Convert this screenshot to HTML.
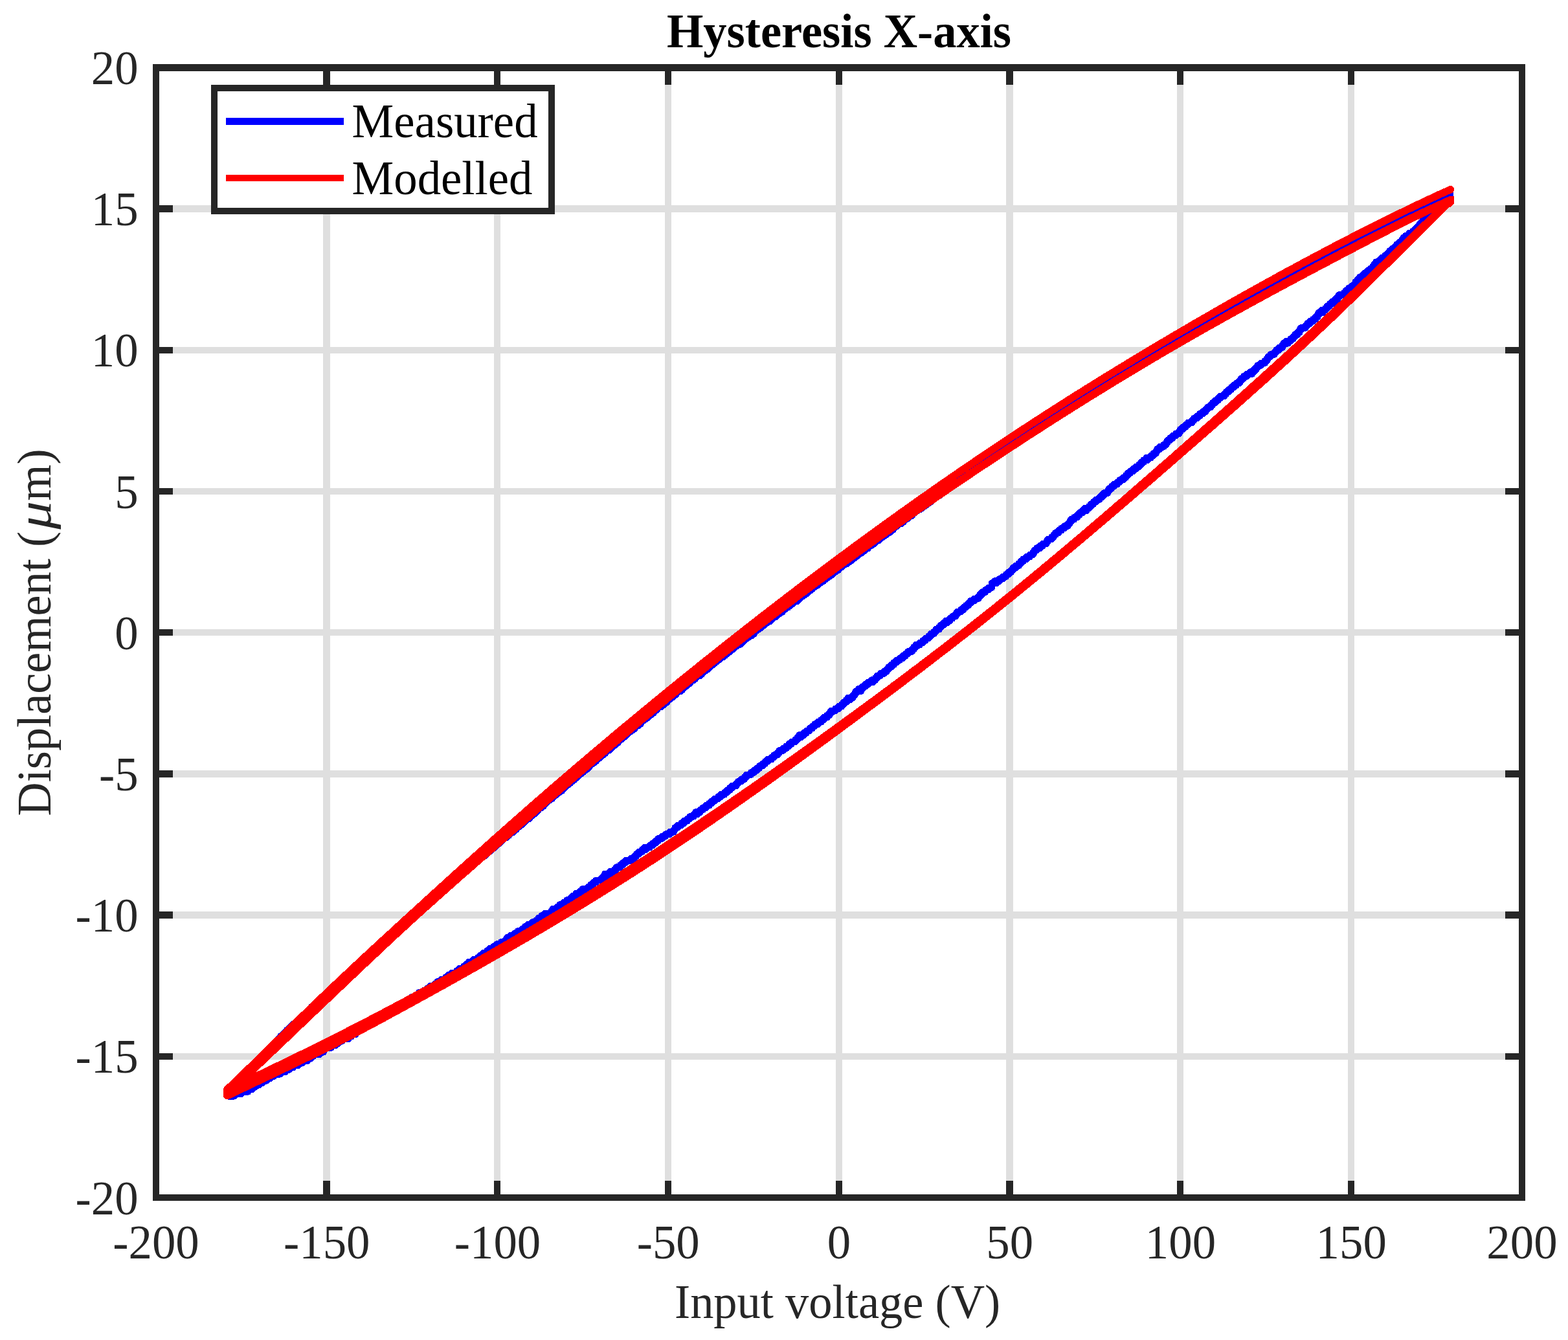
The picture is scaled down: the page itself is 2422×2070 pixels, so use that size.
<!DOCTYPE html>
<html lang="en"><head><meta charset="utf-8"><title>Hysteresis X-axis</title>
<style>html,body{margin:0;padding:0;background:#fff}svg{display:block}</style></head>
<body>
<svg width="2422" height="2070" viewBox="0 0 2422 2070">
<rect x="0" y="0" width="2422" height="2070" fill="#ffffff"/>
<g shape-rendering="crispEdges" stroke="none">
<rect x="499" y="99" width="11" height="1756" fill="#dfdfdf"/>
<rect x="763" y="99" width="10" height="1756" fill="#dfdfdf"/>
<rect x="1027" y="99" width="10" height="1756" fill="#dfdfdf"/>
<rect x="1291" y="99" width="10" height="1756" fill="#dfdfdf"/>
<rect x="1554" y="99" width="11" height="1756" fill="#dfdfdf"/>
<rect x="1818" y="99" width="10" height="1756" fill="#dfdfdf"/>
<rect x="2082" y="99" width="10" height="1756" fill="#dfdfdf"/>
<rect x="236" y="317" width="2120" height="11" fill="#dfdfdf"/>
<rect x="236" y="536" width="2120" height="10" fill="#dfdfdf"/>
<rect x="236" y="754" width="2120" height="10" fill="#dfdfdf"/>
<rect x="236" y="972" width="2120" height="10" fill="#dfdfdf"/>
<rect x="236" y="1190" width="2120" height="11" fill="#dfdfdf"/>
<rect x="236" y="1408" width="2120" height="11" fill="#dfdfdf"/>
<rect x="236" y="1627" width="2120" height="10" fill="#dfdfdf"/>
<rect x="499" y="1824" width="11" height="31" fill="#262626"/>
<rect x="499" y="99" width="11" height="32" fill="#262626"/>
<rect x="763" y="1824" width="10" height="31" fill="#262626"/>
<rect x="763" y="99" width="10" height="32" fill="#262626"/>
<rect x="1027" y="1824" width="10" height="31" fill="#262626"/>
<rect x="1027" y="99" width="10" height="32" fill="#262626"/>
<rect x="1291" y="1824" width="10" height="31" fill="#262626"/>
<rect x="1291" y="99" width="10" height="32" fill="#262626"/>
<rect x="1554" y="1824" width="11" height="31" fill="#262626"/>
<rect x="1554" y="99" width="11" height="32" fill="#262626"/>
<rect x="1818" y="1824" width="10" height="31" fill="#262626"/>
<rect x="1818" y="99" width="10" height="32" fill="#262626"/>
<rect x="2082" y="1824" width="10" height="31" fill="#262626"/>
<rect x="2082" y="99" width="10" height="32" fill="#262626"/>
<rect x="236" y="317" width="31" height="11" fill="#262626"/>
<rect x="2325" y="317" width="31" height="11" fill="#262626"/>
<rect x="236" y="536" width="31" height="10" fill="#262626"/>
<rect x="2325" y="536" width="31" height="10" fill="#262626"/>
<rect x="236" y="754" width="31" height="10" fill="#262626"/>
<rect x="2325" y="754" width="31" height="10" fill="#262626"/>
<rect x="236" y="972" width="31" height="10" fill="#262626"/>
<rect x="2325" y="972" width="31" height="10" fill="#262626"/>
<rect x="236" y="1190" width="31" height="11" fill="#262626"/>
<rect x="2325" y="1190" width="31" height="11" fill="#262626"/>
<rect x="236" y="1408" width="31" height="11" fill="#262626"/>
<rect x="2325" y="1408" width="31" height="11" fill="#262626"/>
<rect x="236" y="1627" width="31" height="10" fill="#262626"/>
<rect x="2325" y="1627" width="31" height="10" fill="#262626"/>
</g>
<g fill="none" stroke-linejoin="round" stroke-linecap="round" shape-rendering="crispEdges">
<path d="M2240.1,302.4 L2235.1,302.4 L2235.1,304.8 L2230.2,304.8 L2230.2,307.2 L2227.2,307.2 L2227.2,309.6 L2219.2,309.6 L2219.2,312.0 L2214.2,312.0 L2214.2,314.4 L2207.3,314.4 L2207.3,316.8 L2204.3,316.8 L2204.3,319.2 L2199.3,319.2 L2199.3,321.6 L2194.3,321.6 L2194.3,324.0 L2186.4,324.0 L2186.4,326.4 L2181.4,326.4 L2181.4,328.8 L2178.4,328.8 L2178.4,331.2 L2170.5,331.2 L2170.5,333.6 L2167.5,333.6 L2167.5,336.0 L2162.5,336.0 L2162.5,338.4 L2158.5,338.4 L2158.5,340.8 L2151.5,340.8 L2151.5,343.2 L2145.6,343.2 L2145.6,345.6 L2139.6,345.6 L2139.6,348.0 L2133.6,348.0 L2133.6,350.4 L2129.7,350.4 L2129.7,352.8 L2123.7,352.8 L2123.7,355.2 L2117.7,355.2 L2117.7,357.6 L2112.7,357.6 L2112.7,360.0 L2106.8,360.0 L2106.8,362.4 L2101.8,362.4 L2101.8,364.8 L2096.8,364.8 L2096.8,367.2 L2093.8,367.2 L2093.8,369.6 L2088.9,369.6 L2088.9,372.0 L2082.9,372.0 L2082.9,374.4 L2076.9,374.4 L2076.9,376.8 L2072.9,376.8 L2072.9,379.2 L2069.0,379.2 L2069.0,381.6 L2065.0,381.6 L2065.0,384.0 L2062.0,384.0 L2062.0,386.4 L2056.0,386.4 L2056.0,388.8 L2051.1,388.8 L2051.1,391.2 L2048.1,391.2 L2048.1,393.6 L2043.1,393.6 L2043.1,396.0 L2037.1,396.0 L2037.1,398.4 L2035.1,398.4 L2035.1,400.8 L2031.2,400.8 L2031.2,403.2 L2030.2,403.2 L2030.2,400.8 L2029.2,400.8 L2029.2,403.2 L2025.2,403.2 L2025.2,405.6 L2020.2,405.6 L2020.2,408.0 L2018.2,408.0 L2018.2,410.4 L2012.3,410.4 L2012.3,412.8 L2009.3,412.8 L2009.3,415.2 L2005.3,415.2 L2005.3,417.6 L2001.3,417.6 L2001.3,420.0 L1999.3,420.0 L1999.3,422.4 L1993.4,422.4 L1993.4,424.8 L1988.4,424.8 L1988.4,427.2 L1985.4,427.2 L1985.4,429.6 L1981.4,429.6 L1981.4,432.0 L1977.4,432.0 L1977.4,434.4 L1972.5,434.4 L1972.5,436.8 L1968.5,436.8 L1968.5,439.2 L1965.5,439.2 L1965.5,441.6 L1962.5,441.6 L1962.5,444.0 L1957.5,444.0 L1957.5,446.4 L1951.6,446.4 L1951.6,448.8 L1949.6,448.8 L1949.6,451.2 L1943.6,451.2 L1943.6,453.6 L1939.6,453.6 L1939.6,456.0 L1934.7,456.0 L1934.7,458.4 L1930.7,458.4 L1930.7,460.8 L1927.7,460.8 L1927.7,463.2 L1923.7,463.2 L1923.7,465.6 L1918.7,465.6 L1918.7,468.0 L1914.8,468.0 L1914.8,470.4 L1910.8,470.4 L1910.8,472.8 L1906.8,472.8 L1906.8,475.2 L1901.8,475.2 L1901.8,477.6 L1896.8,477.6 L1896.8,480.0 L1892.9,480.0 L1892.9,482.4 L1889.9,482.4 L1889.9,484.8 L1884.9,484.8 L1884.9,487.2 L1880.9,487.2 L1880.9,489.6 L1877.9,489.6 L1877.9,492.0 L1872.0,492.0 L1872.0,494.4 L1867.0,494.4 L1867.0,496.8 L1864.0,496.8 L1864.0,499.2 L1860.0,499.2 L1860.0,501.6 L1856.1,501.6 L1856.1,504.0 L1852.1,504.0 L1852.1,506.4 L1847.1,506.4 L1847.1,508.8 L1842.1,508.8 L1842.1,511.2 L1838.1,511.2 L1838.1,513.6 L1834.2,513.6 L1834.2,516.0 L1830.2,516.0 L1830.2,518.4 L1825.2,518.4 L1825.2,520.8 L1822.2,520.8 L1822.2,523.2 L1818.2,523.2 L1818.2,525.6 L1814.3,525.6 L1814.3,528.0 L1810.3,528.0 L1810.3,530.4 L1806.3,530.4 L1806.3,532.8 L1805.3,532.8 L1805.3,530.4 L1803.3,530.4 L1803.3,532.8 L1800.3,532.8 L1800.3,535.2 L1796.4,535.2 L1796.4,537.6 L1792.4,537.6 L1792.4,540.0 L1789.4,540.0 L1789.4,542.4 L1784.4,542.4 L1784.4,544.8 L1780.4,544.8 L1780.4,547.2 L1776.5,547.2 L1776.5,549.6 L1773.5,549.6 L1773.5,552.0 L1767.5,552.0 L1767.5,554.4 L1763.5,554.4 L1763.5,556.8 L1759.5,556.8 L1759.5,559.2 L1755.6,559.2 L1755.6,561.6 L1752.6,561.6 L1752.6,564.0 L1748.6,564.0 L1748.6,566.4 L1744.6,566.4 L1744.6,568.8 L1738.6,568.8 L1738.6,571.2 L1735.7,571.2 L1735.7,573.6 L1732.7,573.6 L1732.7,576.0 L1729.7,576.0 L1729.7,578.4 L1725.7,578.4 L1725.7,580.8 L1720.7,580.8 L1720.7,583.2 L1718.7,583.2 L1718.7,585.6 L1714.8,585.6 L1714.8,588.0 L1710.8,588.0 L1710.8,590.4 L1709.8,590.4 L1709.8,588.0 L1708.8,588.0 L1708.8,590.4 L1704.8,590.4 L1704.8,592.8 L1701.8,592.8 L1701.8,595.2 L1697.9,595.2 L1697.9,597.6 L1692.9,597.6 L1692.9,600.0 L1689.9,600.0 L1689.9,602.4 L1687.9,602.4 L1687.9,604.8 L1681.9,604.8 L1681.9,607.2 L1679.9,607.2 L1679.9,609.6 L1676.0,609.6 L1676.0,612.0 L1671.0,612.0 L1671.0,614.4 L1668.0,614.4 L1668.0,616.8 L1665.0,616.8 L1665.0,619.2 L1661.0,619.2 L1661.0,621.6 L1657.1,621.6 L1657.1,624.0 L1653.1,624.0 L1653.1,626.4 L1649.1,626.4 L1649.1,628.8 L1646.1,628.8 L1646.1,631.2 L1642.1,631.2 L1642.1,633.6 L1638.2,633.6 L1638.2,636.0 L1635.2,636.0 L1635.2,638.4 L1632.2,638.4 L1632.2,640.8 L1627.2,640.8 L1627.2,643.2 L1623.2,643.2 L1623.2,645.6 L1620.2,645.6 L1620.2,648.0 L1616.3,648.0 L1616.3,650.4 L1614.3,650.4 L1614.3,652.8 L1609.3,652.8 L1609.3,655.2 L1603.3,655.2 L1603.3,657.6 L1600.4,657.6 L1600.4,660.0 L1597.4,660.0 L1597.4,662.4 L1594.4,662.4 L1594.4,664.8 L1591.4,664.8 L1591.4,667.2 L1590.4,667.2 L1590.4,664.8 L1589.4,664.8 L1589.4,667.2 L1586.4,667.2 L1586.4,669.6 L1584.4,669.6 L1584.4,672.0 L1580.5,672.0 L1580.5,674.4 L1578.5,674.4 L1578.5,676.8 L1573.5,676.8 L1573.5,679.2 L1570.5,679.2 L1570.5,681.6 L1566.5,681.6 L1566.5,684.0 L1563.5,684.0 L1563.5,686.4 L1560.6,686.4 L1560.6,688.8 L1556.6,688.8 L1556.6,691.2 L1552.6,691.2 L1552.6,693.6 L1548.6,693.6 L1548.6,696.0 L1545.6,696.0 L1545.6,698.4 L1542.6,698.4 L1542.6,700.8 L1538.7,700.8 L1538.7,703.2 L1535.7,703.2 L1535.7,705.6 L1532.7,705.6 L1532.7,708.0 L1527.7,708.0 L1527.7,710.4 L1524.7,710.4 L1524.7,712.8 L1523.7,712.8 L1523.7,715.2 L1518.8,715.2 L1518.8,717.6 L1514.8,717.6 L1514.8,720.0 L1511.8,720.0 L1511.8,722.4 L1507.8,722.4 L1507.8,724.8 L1504.8,724.8 L1504.8,727.2 L1501.9,727.2 L1501.9,729.6 L1496.9,729.6 L1496.9,732.0 L1493.9,732.0 L1493.9,734.4 L1490.9,734.4 L1490.9,736.8 L1486.9,736.8 L1486.9,739.2 L1483.9,739.2 L1483.9,741.6 L1480.0,741.6 L1480.0,744.0 L1478.0,744.0 L1478.0,746.4 L1474.0,746.4 L1474.0,748.8 L1471.0,748.8 L1471.0,751.2 L1468.0,751.2 L1468.0,753.6 L1463.0,753.6 L1463.0,756.0 L1460.1,756.0 L1460.1,758.4 L1457.1,758.4 L1457.1,760.8 L1454.1,760.8 L1454.1,763.2 L1451.1,763.2 L1451.1,765.6 L1447.1,765.6 L1447.1,768.0 L1444.1,768.0 L1444.1,770.4 L1440.2,770.4 L1440.2,772.8 L1438.2,772.8 L1438.2,775.2 L1434.2,775.2 L1434.2,777.6 L1431.2,777.6 L1431.2,780.0 L1428.2,780.0 L1428.2,782.4 L1424.2,782.4 L1424.2,784.8 L1421.3,784.8 L1421.3,787.2 L1420.3,787.2 L1420.3,784.8 L1419.3,784.8 L1419.3,787.2 L1416.3,787.2 L1416.3,789.6 L1413.3,789.6 L1413.3,792.0 L1410.3,792.0 L1410.3,794.4 L1408.3,794.4 L1408.3,796.8 L1404.3,796.8 L1404.3,799.2 L1401.4,799.2 L1401.4,801.6 L1397.4,801.6 L1397.4,804.0 L1395.4,804.0 L1395.4,806.4 L1392.4,806.4 L1392.4,808.8 L1387.4,808.8 L1387.4,811.2 L1384.4,811.2 L1384.4,813.6 L1381.5,813.6 L1381.5,816.0 L1379.5,816.0 L1379.5,818.4 L1376.5,818.4 L1376.5,820.8 L1373.5,820.8 L1373.5,823.2 L1369.5,823.2 L1369.5,825.6 L1366.5,825.6 L1366.5,828.0 L1362.6,828.0 L1362.6,830.4 L1359.6,830.4 L1359.6,832.8 L1356.6,832.8 L1356.6,835.2 L1355.6,835.2 L1355.6,832.8 L1354.6,832.8 L1354.6,835.2 L1351.6,835.2 L1351.6,837.6 L1350.6,837.6 L1350.6,840.0 L1346.6,840.0 L1346.6,842.4 L1342.7,842.4 L1342.7,844.8 L1340.7,844.8 L1340.7,847.2 L1336.7,847.2 L1336.7,849.6 L1333.7,849.6 L1333.7,852.0 L1330.7,852.0 L1330.7,854.4 L1326.7,854.4 L1326.7,856.8 L1323.8,856.8 L1323.8,859.2 L1320.8,859.2 L1320.8,861.6 L1316.8,861.6 L1316.8,864.0 L1314.8,864.0 L1314.8,866.4 L1310.8,866.4 L1310.8,868.8 L1307.8,868.8 L1307.8,871.2 L1302.9,871.2 L1302.9,873.6 L1299.9,873.6 L1299.9,876.0 L1296.9,876.0 L1296.9,878.4 L1294.9,878.4 L1294.9,880.8 L1290.9,880.8 L1290.9,883.2 L1287.9,883.2 L1287.9,885.6 L1285.0,885.6 L1285.0,888.0 L1282.0,888.0 L1282.0,890.4 L1278.0,890.4 L1278.0,892.8 L1275.0,892.8 L1275.0,895.2 L1272.0,895.2 L1272.0,897.6 L1268.0,897.6 L1268.0,900.0 L1265.1,900.0 L1265.1,902.4 L1262.1,902.4 L1262.1,904.8 L1258.1,904.8 L1258.1,907.2 L1255.1,907.2 L1255.1,909.6 L1252.1,909.6 L1252.1,912.0 L1249.1,912.0 L1249.1,914.4 L1246.2,914.4 L1246.2,916.8 L1243.2,916.8 L1243.2,919.2 L1239.2,919.2 L1239.2,921.6 L1236.2,921.6 L1236.2,924.0 L1234.2,924.0 L1234.2,926.4 L1231.2,926.4 L1231.2,928.8 L1230.2,928.8 L1230.2,926.4 L1229.2,926.4 L1229.2,928.8 L1226.3,928.8 L1226.3,931.2 L1223.3,931.2 L1223.3,933.6 L1220.3,933.6 L1220.3,936.0 L1217.3,936.0 L1217.3,938.4 L1213.3,938.4 L1213.3,940.8 L1210.3,940.8 L1210.3,943.2 L1208.3,943.2 L1208.3,945.6 L1204.4,945.6 L1204.4,948.0 L1200.4,948.0 L1200.4,950.4 L1198.4,950.4 L1198.4,952.8 L1194.4,952.8 L1194.4,955.2 L1191.4,955.2 L1191.4,957.6 L1189.4,957.6 L1189.4,960.0 L1184.5,960.0 L1184.5,962.4 L1181.5,962.4 L1181.5,964.8 L1178.5,964.8 L1178.5,967.2 L1175.5,967.2 L1175.5,969.6 L1172.5,969.6 L1172.5,972.0 L1168.5,972.0 L1168.5,974.4 L1165.6,974.4 L1165.6,976.8 L1164.6,976.8 L1164.6,979.2 L1161.6,979.2 L1161.6,981.6 L1157.6,981.6 L1157.6,984.0 L1153.6,984.0 L1153.6,986.4 L1150.6,986.4 L1150.6,988.8 L1147.7,988.8 L1147.7,991.2 L1145.7,991.2 L1145.7,993.6 L1142.7,993.6 L1142.7,996.0 L1137.7,996.0 L1137.7,998.4 L1134.7,998.4 L1134.7,1000.8 L1131.7,1000.8 L1131.7,1003.2 L1128.7,1003.2 L1128.7,1005.6 L1125.8,1005.6 L1125.8,1008.0 L1122.8,1008.0 L1122.8,1010.4 L1119.8,1010.4 L1119.8,1012.8 L1116.8,1012.8 L1116.8,1015.2 L1112.8,1015.2 L1112.8,1017.6 L1109.8,1017.6 L1109.8,1020.0 L1106.9,1020.0 L1106.9,1022.4 L1103.9,1022.4 L1103.9,1024.8 L1100.9,1024.8 L1100.9,1027.2 L1097.9,1027.2 L1097.9,1029.6 L1094.9,1029.6 L1094.9,1032.0 L1092.9,1032.0 L1092.9,1034.4 L1088.9,1034.4 L1088.9,1036.8 L1086.0,1036.8 L1086.0,1039.2 L1084.0,1039.2 L1084.0,1041.6 L1081.0,1041.6 L1081.0,1044.0 L1080.0,1044.0 L1080.0,1041.6 L1079.0,1041.6 L1079.0,1044.0 L1076.0,1044.0 L1076.0,1046.4 L1074.0,1046.4 L1074.0,1048.8 L1071.0,1048.8 L1071.0,1051.2 L1067.1,1051.2 L1067.1,1053.6 L1065.1,1053.6 L1065.1,1056.0 L1062.1,1056.0 L1062.1,1058.4 L1059.1,1058.4 L1059.1,1060.8 L1056.1,1060.8 L1056.1,1063.2 L1054.1,1063.2 L1054.1,1065.6 L1051.1,1065.6 L1051.1,1068.0 L1050.1,1068.0 L1050.1,1065.6 L1049.2,1065.6 L1049.2,1068.0 L1046.2,1068.0 L1046.2,1070.4 L1044.2,1070.4 L1044.2,1072.8 L1041.2,1072.8 L1041.2,1075.2 L1038.2,1075.2 L1038.2,1077.6 L1035.2,1077.6 L1035.2,1080.0 L1032.2,1080.0 L1032.2,1082.4 L1030.2,1082.4 L1030.2,1084.8 L1027.3,1084.8 L1027.3,1087.2 L1024.3,1087.2 L1024.3,1089.6 L1021.3,1089.6 L1021.3,1092.0 L1020.3,1092.0 L1020.3,1089.6 L1019.3,1089.6 L1019.3,1092.0 L1016.3,1092.0 L1016.3,1094.4 L1014.3,1094.4 L1014.3,1096.8 L1011.3,1096.8 L1011.3,1099.2 L1009.4,1099.2 L1009.4,1101.6 L1006.4,1101.6 L1006.4,1104.0 L1002.4,1104.0 L1002.4,1106.4 L1000.4,1106.4 L1000.4,1108.8 L997.4,1108.8 L997.4,1111.2 L993.4,1111.2 L993.4,1113.6 L990.4,1113.6 L990.4,1116.0 L989.5,1116.0 L989.5,1118.4 L986.5,1118.4 L986.5,1120.8 L985.5,1120.8 L985.5,1118.4 L984.5,1118.4 L984.5,1120.8 L981.5,1120.8 L981.5,1123.2 L980.5,1123.2 L980.5,1125.6 L977.5,1125.6 L977.5,1128.0 L973.5,1128.0 L973.5,1130.4 L970.6,1130.4 L970.6,1132.8 L967.6,1132.8 L967.6,1135.2 L965.6,1135.2 L965.6,1137.6 L962.6,1137.6 L962.6,1140.0 L959.6,1140.0 L959.6,1142.4 L956.6,1142.4 L956.6,1144.8 L954.6,1144.8 L954.6,1147.2 L951.6,1147.2 L951.6,1149.6 L948.7,1149.6 L948.7,1152.0 L945.7,1152.0 L945.7,1154.4 L943.7,1154.4 L943.7,1156.8 L940.7,1156.8 L940.7,1159.2 L936.7,1159.2 L936.7,1161.6 L934.7,1161.6 L934.7,1164.0 L931.7,1164.0 L931.7,1166.4 L927.8,1166.4 L927.8,1168.8 L925.8,1168.8 L925.8,1171.2 L922.8,1171.2 L922.8,1173.6 L920.8,1173.6 L920.8,1176.0 L917.8,1176.0 L917.8,1178.4 L913.8,1178.4 L913.8,1180.8 L910.9,1180.8 L910.9,1183.2 L909.9,1183.2 L909.9,1185.6 L906.9,1185.6 L906.9,1188.0 L903.9,1188.0 L903.9,1190.4 L900.9,1190.4 L900.9,1192.8 L897.9,1192.8 L897.9,1195.2 L894.9,1195.2 L894.9,1197.6 L891.9,1197.6 L891.9,1200.0 L890.0,1200.0 L890.0,1202.4 L887.0,1202.4 L887.0,1204.8 L884.0,1204.8 L884.0,1207.2 L881.0,1207.2 L881.0,1209.6 L878.0,1209.6 L878.0,1212.0 L875.0,1212.0 L875.0,1214.4 L872.1,1214.4 L872.1,1216.8 L870.1,1216.8 L870.1,1219.2 L868.1,1219.2 L868.1,1221.6 L864.1,1221.6 L864.1,1224.0 L861.1,1224.0 L861.1,1226.4 L858.1,1226.4 L858.1,1228.8 L855.1,1228.8 L855.1,1231.2 L853.1,1231.2 L853.1,1233.6 L849.2,1233.6 L849.2,1236.0 L846.2,1236.0 L846.2,1238.4 L843.2,1238.4 L843.2,1240.8 L841.2,1240.8 L841.2,1243.2 L839.2,1243.2 L839.2,1245.6 L836.2,1245.6 L836.2,1248.0 L832.3,1248.0 L832.3,1250.4 L830.3,1250.4 L830.3,1252.8 L828.3,1252.8 L828.3,1255.2 L825.3,1255.2 L825.3,1257.6 L822.3,1257.6 L822.3,1260.0 L819.3,1260.0 L819.3,1262.4 L817.3,1262.4 L817.3,1264.8 L813.3,1264.8 L813.3,1267.2 L810.4,1267.2 L810.4,1269.6 L808.4,1269.6 L808.4,1272.0 L805.4,1272.0 L805.4,1274.4 L802.4,1274.4 L802.4,1276.8 L799.4,1276.8 L799.4,1279.2 L797.4,1279.2 L797.4,1281.6 L794.4,1281.6 L794.4,1284.0 L791.5,1284.0 L791.5,1286.4 L787.5,1286.4 L787.5,1288.8 L785.5,1288.8 L785.5,1291.2 L782.5,1291.2 L782.5,1293.6 L778.5,1293.6 L778.5,1296.0 L775.5,1296.0 L775.5,1298.4 L773.6,1298.4 L773.6,1300.8 L770.6,1300.8 L770.6,1303.2 L767.6,1303.2 L767.6,1305.6 L765.6,1305.6 L765.6,1308.0 L762.6,1308.0 L762.6,1310.4 L759.6,1310.4 L759.6,1312.8 L756.6,1312.8 L756.6,1315.2 L753.7,1315.2 L753.7,1317.6 L750.7,1317.6 L750.7,1320.0 L748.7,1320.0 L748.7,1322.4 L744.7,1322.4 L744.7,1324.8 L741.7,1324.8 L741.7,1327.2 L738.7,1327.2 L738.7,1329.6 L736.7,1329.6 L736.7,1332.0 L733.8,1332.0 L733.8,1334.4 L730.8,1334.4 L730.8,1336.8 L728.8,1336.8 L728.8,1339.2 L725.8,1339.2 L725.8,1341.6 L722.8,1341.6 L722.8,1344.0 L718.8,1344.0 L718.8,1346.4 L715.8,1346.4 L715.8,1348.8 L712.9,1348.8 L712.9,1351.2 L709.9,1351.2 L709.9,1353.6 L706.9,1353.6 L706.9,1356.0 L704.9,1356.0 L704.9,1358.4 L702.9,1358.4 L702.9,1360.8 L698.9,1360.8 L698.9,1363.2 L695.9,1363.2 L695.9,1365.6 L693.0,1365.6 L693.0,1368.0 L690.0,1368.0 L690.0,1370.4 L688.0,1370.4 L688.0,1372.8 L686.0,1372.8 L686.0,1375.2 L683.0,1375.2 L683.0,1377.6 L679.0,1377.6 L679.0,1380.0 L676.0,1380.0 L676.0,1382.4 L673.1,1382.4 L673.1,1384.8 L670.1,1384.8 L670.1,1387.2 L667.1,1387.2 L667.1,1389.6 L665.1,1389.6 L665.1,1392.0 L662.1,1392.0 L662.1,1394.4 L659.1,1394.4 L659.1,1396.8 L656.1,1396.8 L656.1,1399.2 L654.2,1399.2 L654.2,1401.6 L651.2,1401.6 L651.2,1404.0 L648.2,1404.0 L648.2,1406.4 L645.2,1406.4 L645.2,1408.8 L644.2,1408.8 L644.2,1411.2 L641.2,1411.2 L641.2,1413.6 L638.2,1413.6 L638.2,1416.0 L634.3,1416.0 L634.3,1418.4 L632.3,1418.4 L632.3,1420.8 L629.3,1420.8 L629.3,1423.2 L627.3,1423.2 L627.3,1425.6 L623.3,1425.6 L623.3,1428.0 L621.3,1428.0 L621.3,1430.4 L618.3,1430.4 L618.3,1432.8 L616.4,1432.8 L616.4,1435.2 L613.4,1435.2 L613.4,1437.6 L609.4,1437.6 L609.4,1440.0 L607.4,1440.0 L607.4,1442.4 L605.4,1442.4 L605.4,1444.8 L602.4,1444.8 L602.4,1447.2 L600.4,1447.2 L600.4,1449.6 L598.4,1449.6 L598.4,1452.0 L594.5,1452.0 L594.5,1454.4 L591.5,1454.4 L591.5,1456.8 L589.5,1456.8 L589.5,1459.2 L586.5,1459.2 L586.5,1461.6 L584.5,1461.6 L584.5,1464.0 L581.5,1464.0 L581.5,1466.4 L577.5,1466.4 L577.5,1468.8 L575.6,1468.8 L575.6,1471.2 L574.6,1471.2 L574.6,1473.6 L571.6,1473.6 L571.6,1476.0 L568.6,1476.0 L568.6,1478.4 L564.6,1478.4 L564.6,1480.8 L562.6,1480.8 L562.6,1483.2 L560.6,1483.2 L560.6,1485.6 L557.6,1485.6 L557.6,1488.0 L555.7,1488.0 L555.7,1490.4 L552.7,1490.4 L552.7,1492.8 L549.7,1492.8 L549.7,1495.2 L547.7,1495.2 L547.7,1497.6 L544.7,1497.6 L544.7,1500.0 L541.7,1500.0 L541.7,1502.4 L539.7,1502.4 L539.7,1504.8 L537.7,1504.8 L537.7,1507.2 L534.8,1507.2 L534.8,1509.6 L531.8,1509.6 L531.8,1512.0 L528.8,1512.0 L528.8,1514.4 L526.8,1514.4 L526.8,1516.8 L524.8,1516.8 L524.8,1519.2 L521.8,1519.2 L521.8,1521.6 L518.8,1521.6 L518.8,1524.0 L515.9,1524.0 L515.9,1526.4 L512.9,1526.4 L512.9,1528.8 L510.9,1528.8 L510.9,1531.2 L508.9,1531.2 L508.9,1533.6 L505.9,1533.6 L505.9,1536.0 L502.9,1536.0 L502.9,1538.4 L499.9,1538.4 L499.9,1540.8 L498.0,1540.8 L498.0,1543.2 L496.0,1543.2 L496.0,1545.6 L493.0,1545.6 L493.0,1548.0 L490.0,1548.0 L490.0,1550.4 L488.0,1550.4 L488.0,1552.8 L484.0,1552.8 L484.0,1555.2 L481.0,1555.2 L481.0,1557.6 L480.0,1557.6 L480.0,1560.0 L477.1,1560.0 L477.1,1562.4 L475.1,1562.4 L475.1,1564.8 L472.1,1564.8 L472.1,1567.2 L470.1,1567.2 L470.1,1569.6 L467.1,1569.6 L467.1,1572.0 L464.1,1572.0 L464.1,1574.4 L461.1,1574.4 L461.1,1576.8 L459.1,1576.8 L459.1,1579.2 L457.2,1579.2 L457.2,1581.6 L453.2,1581.6 L453.2,1584.0 L451.2,1584.0 L451.2,1586.4 L448.2,1586.4 L448.2,1588.8 L446.2,1588.8 L446.2,1591.2 L443.2,1591.2 L443.2,1593.6 L441.2,1593.6 L441.2,1596.0 L439.3,1596.0 L439.3,1598.4 L436.3,1598.4 L436.3,1600.8 L433.3,1600.8 L433.3,1603.2 L431.3,1603.2 L431.3,1605.6 L430.3,1605.6 L430.3,1608.0 L427.3,1608.0 L427.3,1610.4 L424.3,1610.4 L424.3,1612.8 L422.3,1612.8 L422.3,1615.2 L419.4,1615.2 L419.4,1617.6 L417.4,1617.6 L417.4,1620.0 L415.4,1620.0 L415.4,1622.4 L412.4,1622.4 L412.4,1624.8 L410.4,1624.8 L410.4,1627.2 L408.4,1627.2 L408.4,1629.6 L405.4,1629.6 L405.4,1632.0 L403.4,1632.0 L403.4,1634.4 L401.4,1634.4 L401.4,1636.8 L398.5,1636.8 L398.5,1639.2 L396.5,1639.2 L396.5,1641.6 L393.5,1641.6 L393.5,1644.0 L391.5,1644.0 L391.5,1646.4 L390.5,1646.4 L390.5,1648.8 L387.5,1648.8 L387.5,1651.2 L384.5,1651.2 L384.5,1653.6 L382.5,1653.6 L382.5,1656.0 L379.6,1656.0 L379.6,1658.4 L377.6,1658.4 L377.6,1660.8 L375.6,1660.8 L375.6,1663.2 L373.6,1663.2 L373.6,1665.6 L370.6,1665.6 L370.6,1668.0 L368.6,1668.0 L368.6,1670.4 L365.6,1670.4 L365.6,1672.8 L363.6,1672.8 L363.6,1675.2 L361.6,1675.2 L361.6,1677.6 L359.7,1677.6 L359.7,1680.0 L356.7,1680.0 L356.7,1682.4 L354.7,1682.4 L354.7,1684.8 L351.7,1684.8 L351.7,1687.2 L350.7,1687.2 L351.5,1693.2 L362.4,1693.2 L362.4,1689.8 L372.4,1689.8 L372.4,1686.4 L383.3,1686.4 L383.3,1683.0 L389.3,1683.0 L389.3,1679.6 L393.3,1679.6 L393.3,1676.2 L400.2,1676.2 L400.2,1672.8 L405.2,1672.8 L405.2,1669.4 L412.2,1669.4 L412.2,1666.0 L417.1,1666.0 L417.1,1662.6 L423.1,1662.6 L423.1,1659.2 L433.1,1659.2 L433.1,1655.8 L441.0,1655.8 L441.0,1652.4 L447.0,1652.4 L447.0,1649.0 L451.0,1649.0 L451.0,1645.6 L451.9,1645.6 L451.9,1649.0 L452.9,1649.0 L452.9,1645.6 L460.9,1645.6 L460.9,1642.2 L466.9,1642.2 L466.9,1638.8 L474.8,1638.8 L474.8,1635.4 L479.8,1635.4 L479.8,1632.0 L483.8,1632.0 L483.8,1628.6 L490.7,1628.6 L490.7,1625.2 L491.7,1625.2 L491.7,1628.6 L493.7,1628.6 L493.7,1625.2 L499.7,1625.2 L499.7,1621.8 L501.7,1621.8 L501.7,1618.4 L511.6,1618.4 L511.6,1615.0 L518.6,1615.0 L518.6,1611.6 L522.6,1611.6 L522.6,1608.2 L528.5,1608.2 L528.5,1604.8 L533.5,1604.8 L533.5,1601.4 L537.5,1601.4 L537.5,1604.8 L538.5,1604.8 L538.5,1601.4 L542.4,1601.4 L542.4,1598.0 L546.4,1598.0 L546.4,1594.6 L547.4,1594.6 L547.4,1598.0 L549.4,1598.0 L549.4,1594.6 L552.4,1594.6 L552.4,1591.2 L558.4,1591.2 L558.4,1587.8 L562.3,1587.8 L562.3,1584.4 L569.3,1584.4 L569.3,1581.0 L577.3,1581.0 L577.3,1577.6 L579.2,1577.6 L579.2,1574.2 L582.2,1574.2 L582.2,1577.6 L583.2,1577.6 L583.2,1574.2 L588.2,1574.2 L588.2,1570.8 L592.2,1570.8 L592.2,1567.4 L598.1,1567.4 L598.1,1564.0 L604.1,1564.0 L604.1,1560.6 L610.1,1560.6 L610.1,1557.2 L615.0,1557.2 L615.0,1553.8 L620.0,1553.8 L620.0,1550.4 L627.0,1550.4 L627.0,1547.0 L631.0,1547.0 L631.0,1543.6 L635.9,1543.6 L635.9,1540.2 L636.9,1540.2 L636.9,1543.6 L637.9,1543.6 L637.9,1540.2 L644.9,1540.2 L644.9,1536.8 L646.9,1536.8 L646.9,1533.4 L654.8,1533.4 L654.8,1530.0 L659.8,1530.0 L659.8,1526.6 L664.8,1526.6 L664.8,1523.2 L671.7,1523.2 L671.7,1519.8 L675.7,1519.8 L675.7,1516.4 L676.7,1516.4 L676.7,1519.8 L678.7,1519.8 L678.7,1516.4 L681.7,1516.4 L681.7,1513.0 L688.6,1513.0 L688.6,1509.6 L692.6,1509.6 L692.6,1506.2 L697.6,1506.2 L697.6,1502.8 L705.6,1502.8 L705.6,1499.4 L709.5,1499.4 L709.5,1496.0 L716.5,1496.0 L716.5,1492.6 L720.5,1492.6 L720.5,1489.2 L724.4,1489.2 L724.4,1485.8 L731.4,1485.8 L731.4,1482.4 L738.4,1482.4 L738.4,1479.0 L742.3,1479.0 L742.3,1475.6 L746.3,1475.6 L746.3,1472.2 L752.3,1472.2 L752.3,1468.8 L756.3,1468.8 L756.3,1465.4 L757.3,1465.4 L757.3,1468.8 L759.3,1468.8 L759.3,1465.4 L762.2,1465.4 L762.2,1462.0 L767.2,1462.0 L767.2,1458.6 L774.2,1458.6 L774.2,1455.2 L781.1,1455.2 L781.1,1451.8 L783.1,1451.8 L783.1,1448.4 L789.1,1448.4 L789.1,1445.0 L795.1,1445.0 L795.1,1441.6 L800.0,1441.6 L800.0,1438.2 L807.0,1438.2 L807.0,1434.8 L811.0,1434.8 L811.0,1431.4 L815.9,1431.4 L815.9,1428.0 L816.9,1428.0 L816.9,1431.4 L817.9,1431.4 L817.9,1428.0 L821.9,1428.0 L821.9,1424.6 L828.9,1424.6 L828.9,1421.2 L831.9,1421.2 L831.9,1417.8 L836.8,1417.8 L836.8,1414.4 L841.8,1414.4 L841.8,1411.0 L851.7,1411.0 L851.7,1407.6 L853.7,1407.6 L853.7,1404.2 L860.7,1404.2 L860.7,1400.8 L864.7,1400.8 L864.7,1397.4 L870.6,1397.4 L870.6,1394.0 L875.6,1394.0 L875.6,1390.6 L876.6,1390.6 L876.6,1394.0 L878.6,1394.0 L878.6,1390.6 L881.6,1390.6 L881.6,1387.2 L884.6,1387.2 L884.6,1383.8 L889.5,1383.8 L889.5,1380.4 L895.5,1380.4 L895.5,1377.0 L899.5,1377.0 L899.5,1373.6 L908.4,1373.6 L908.4,1370.2 L912.4,1370.2 L912.4,1366.8 L916.4,1366.8 L916.4,1363.4 L920.4,1363.4 L920.4,1360.0 L929.3,1360.0 L929.3,1356.6 L932.3,1356.6 L932.3,1353.2 L934.3,1353.2 L934.3,1349.8 L937.3,1349.8 L937.3,1353.2 L938.3,1353.2 L938.3,1349.8 L942.2,1349.8 L942.2,1346.4 L949.2,1346.4 L949.2,1343.0 L952.2,1343.0 L952.2,1339.6 L958.2,1339.6 L958.2,1336.2 L962.1,1336.2 L962.1,1332.8 L966.1,1332.8 L966.1,1329.4 L975.1,1329.4 L975.1,1326.0 L980.0,1326.0 L980.0,1322.6 L983.0,1322.6 L983.0,1319.2 L987.0,1319.2 L987.0,1315.8 L992.0,1315.8 L992.0,1312.4 L996.0,1312.4 L996.0,1309.0 L996.9,1309.0 L996.9,1312.4 L997.9,1312.4 L997.9,1309.0 L1003.9,1309.0 L1003.9,1305.6 L1008.9,1305.6 L1008.9,1302.2 L1012.9,1302.2 L1012.9,1298.8 L1016.8,1298.8 L1016.8,1295.4 L1022.8,1295.4 L1022.8,1292.0 L1027.8,1292.0 L1027.8,1288.6 L1034.7,1288.6 L1034.7,1285.2 L1040.7,1285.2 L1040.7,1281.8 L1042.7,1281.8 L1042.7,1278.4 L1046.7,1278.4 L1046.7,1275.0 L1052.6,1275.0 L1052.6,1271.6 L1056.6,1271.6 L1056.6,1268.2 L1061.6,1268.2 L1061.6,1264.8 L1065.6,1264.8 L1065.6,1261.4 L1071.5,1261.4 L1071.5,1258.0 L1074.5,1258.0 L1074.5,1254.6 L1076.5,1254.6 L1076.5,1258.0 L1077.5,1258.0 L1077.5,1254.6 L1081.5,1254.6 L1081.5,1251.2 L1085.5,1251.2 L1085.5,1247.8 L1090.4,1247.8 L1090.4,1244.4 L1095.4,1244.4 L1095.4,1241.0 L1099.4,1241.0 L1099.4,1237.6 L1103.4,1237.6 L1103.4,1234.2 L1109.3,1234.2 L1109.3,1230.8 L1113.3,1230.8 L1113.3,1227.4 L1119.3,1227.4 L1119.3,1224.0 L1123.3,1224.0 L1123.3,1220.6 L1127.2,1220.6 L1127.2,1217.2 L1131.2,1217.2 L1131.2,1213.8 L1137.2,1213.8 L1137.2,1210.4 L1140.2,1210.4 L1140.2,1207.0 L1145.1,1207.0 L1145.1,1203.6 L1150.1,1203.6 L1150.1,1200.2 L1153.1,1200.2 L1153.1,1196.8 L1160.0,1196.8 L1160.0,1193.4 L1165.0,1193.4 L1165.0,1190.0 L1169.0,1190.0 L1169.0,1186.6 L1173.0,1186.6 L1173.0,1183.2 L1177.9,1183.2 L1177.9,1179.8 L1181.9,1179.8 L1181.9,1176.4 L1185.9,1176.4 L1185.9,1173.0 L1191.9,1173.0 L1191.9,1169.6 L1195.9,1169.6 L1195.9,1166.2 L1200.8,1166.2 L1200.8,1162.8 L1203.8,1162.8 L1203.8,1159.4 L1209.8,1159.4 L1209.8,1156.0 L1214.7,1156.0 L1214.7,1152.6 L1218.7,1152.6 L1218.7,1149.2 L1222.7,1149.2 L1222.7,1145.8 L1228.7,1145.8 L1228.7,1142.4 L1231.7,1142.4 L1231.7,1139.0 L1234.6,1139.0 L1234.6,1135.6 L1236.6,1135.6 L1236.6,1139.0 L1237.6,1139.0 L1237.6,1135.6 L1241.6,1135.6 L1241.6,1132.2 L1245.6,1132.2 L1245.6,1128.8 L1250.5,1128.8 L1250.5,1125.4 L1254.5,1125.4 L1254.5,1122.0 L1258.5,1122.0 L1258.5,1118.6 L1263.5,1118.6 L1263.5,1115.2 L1268.5,1115.2 L1268.5,1111.8 L1272.4,1111.8 L1272.4,1108.4 L1277.4,1108.4 L1277.4,1105.0 L1281.4,1105.0 L1281.4,1101.6 L1283.4,1101.6 L1283.4,1098.2 L1290.3,1098.2 L1290.3,1094.8 L1295.3,1094.8 L1295.3,1091.4 L1300.3,1091.4 L1300.3,1088.0 L1303.3,1088.0 L1303.3,1084.6 L1307.2,1084.6 L1307.2,1081.2 L1310.2,1081.2 L1310.2,1077.8 L1312.2,1077.8 L1312.2,1081.2 L1313.2,1081.2 L1313.2,1077.8 L1317.2,1077.8 L1317.2,1074.4 L1320.2,1074.4 L1320.2,1071.0 L1322.2,1071.0 L1322.2,1067.6 L1326.1,1067.6 L1326.1,1064.2 L1327.1,1064.2 L1327.1,1067.6 L1330.1,1067.6 L1330.1,1064.2 L1332.1,1064.2 L1332.1,1060.8 L1336.1,1060.8 L1336.1,1057.4 L1341.1,1057.4 L1341.1,1054.0 L1346.0,1054.0 L1346.0,1050.6 L1347.0,1050.6 L1347.0,1054.0 L1348.0,1054.0 L1348.0,1050.6 L1352.0,1050.6 L1352.0,1047.2 L1355.0,1047.2 L1355.0,1043.8 L1359.9,1043.8 L1359.9,1040.4 L1365.9,1040.4 L1365.9,1037.0 L1369.9,1037.0 L1369.9,1033.6 L1372.9,1033.6 L1372.9,1030.2 L1376.9,1030.2 L1376.9,1026.8 L1380.8,1026.8 L1380.8,1023.4 L1384.8,1023.4 L1384.8,1020.0 L1389.8,1020.0 L1389.8,1016.6 L1394.8,1016.6 L1394.8,1013.2 L1398.7,1013.2 L1398.7,1009.8 L1402.7,1009.8 L1402.7,1006.4 L1408.7,1006.4 L1408.7,1003.0 L1411.7,1003.0 L1411.7,999.6 L1414.6,999.6 L1414.6,996.2 L1420.6,996.2 L1420.6,992.8 L1425.6,992.8 L1425.6,989.4 L1429.6,989.4 L1429.6,986.0 L1434.5,986.0 L1434.5,982.6 L1437.5,982.6 L1437.5,979.2 L1442.5,979.2 L1442.5,975.8 L1445.5,975.8 L1445.5,972.4 L1450.4,972.4 L1450.4,969.0 L1453.4,969.0 L1453.4,965.6 L1457.4,965.6 L1457.4,962.2 L1461.4,962.2 L1461.4,958.8 L1462.4,958.8 L1462.4,962.2 L1463.4,962.2 L1463.4,958.8 L1467.4,958.8 L1467.4,955.4 L1471.3,955.4 L1471.3,952.0 L1476.3,952.0 L1476.3,948.6 L1478.3,948.6 L1478.3,945.2 L1484.3,945.2 L1484.3,941.8 L1488.2,941.8 L1488.2,938.4 L1492.2,938.4 L1492.2,935.0 L1496.2,935.0 L1496.2,931.6 L1499.2,931.6 L1499.2,928.2 L1505.1,928.2 L1505.1,924.8 L1511.1,924.8 L1511.1,921.4 L1514.1,921.4 L1514.1,918.0 L1517.1,918.0 L1517.1,914.6 L1522.1,914.6 L1522.1,911.2 L1527.0,911.2 L1527.0,907.8 L1532.0,907.8 L1532.0,901.0 L1536.0,901.0 L1536.0,897.6 L1537.0,897.6 L1537.0,901.0 L1539.0,901.0 L1539.0,897.6 L1543.9,897.6 L1543.9,894.2 L1548.9,894.2 L1548.9,890.8 L1553.9,890.8 L1553.9,887.4 L1557.9,887.4 L1557.9,884.0 L1561.8,884.0 L1561.8,880.6 L1564.8,880.6 L1564.8,877.2 L1568.8,877.2 L1568.8,873.8 L1573.8,873.8 L1573.8,870.4 L1576.8,870.4 L1576.8,867.0 L1580.7,867.0 L1580.7,863.6 L1585.7,863.6 L1585.7,860.2 L1590.7,860.2 L1590.7,856.8 L1595.6,856.8 L1595.6,853.4 L1597.6,853.4 L1597.6,850.0 L1601.6,850.0 L1601.6,846.6 L1606.6,846.6 L1606.6,843.2 L1610.6,843.2 L1610.6,839.8 L1616.5,839.8 L1616.5,836.4 L1618.5,836.4 L1618.5,833.0 L1624.5,833.0 L1624.5,829.6 L1627.5,829.6 L1627.5,826.2 L1630.5,826.2 L1630.5,822.8 L1635.4,822.8 L1635.4,819.4 L1639.4,819.4 L1639.4,816.0 L1644.4,816.0 L1644.4,812.6 L1649.4,812.6 L1649.4,809.2 L1652.3,809.2 L1652.3,805.8 L1654.3,805.8 L1654.3,802.4 L1659.3,802.4 L1659.3,799.0 L1664.3,799.0 L1664.3,795.6 L1667.3,795.6 L1667.3,792.2 L1672.2,792.2 L1672.2,788.8 L1675.2,788.8 L1675.2,785.4 L1677.2,785.4 L1677.2,788.8 L1678.2,788.8 L1678.2,785.4 L1682.2,785.4 L1682.2,782.0 L1685.2,782.0 L1685.2,778.6 L1689.1,778.6 L1689.1,775.2 L1693.1,775.2 L1693.1,771.8 L1698.1,771.8 L1698.1,768.4 L1702.1,768.4 L1702.1,765.0 L1705.0,765.0 L1705.0,761.6 L1711.0,761.6 L1711.0,758.2 L1713.0,758.2 L1713.0,754.8 L1717.0,754.8 L1717.0,751.4 L1721.0,751.4 L1721.0,748.0 L1725.9,748.0 L1725.9,744.6 L1729.9,744.6 L1729.9,741.2 L1734.9,741.2 L1734.9,737.8 L1738.9,737.8 L1738.9,734.4 L1741.8,734.4 L1741.8,731.0 L1745.8,731.0 L1745.8,727.6 L1750.8,727.6 L1750.8,724.2 L1754.8,724.2 L1754.8,720.8 L1759.7,720.8 L1759.7,717.4 L1762.7,717.4 L1762.7,714.0 L1766.7,714.0 L1766.7,710.6 L1770.7,710.6 L1770.7,707.2 L1771.7,707.2 L1771.7,710.6 L1772.7,710.6 L1772.7,707.2 L1777.6,707.2 L1777.6,703.8 L1781.6,703.8 L1781.6,700.4 L1785.6,700.4 L1785.6,697.0 L1787.6,697.0 L1787.6,693.6 L1791.6,693.6 L1791.6,690.2 L1797.5,690.2 L1797.5,686.8 L1801.5,686.8 L1801.5,683.4 L1803.5,683.4 L1803.5,680.0 L1807.5,680.0 L1807.5,676.6 L1811.5,676.6 L1811.5,673.2 L1816.4,673.2 L1816.4,669.8 L1821.4,669.8 L1821.4,666.4 L1823.4,666.4 L1823.4,663.0 L1827.4,663.0 L1827.4,659.6 L1831.4,659.6 L1831.4,656.2 L1835.3,656.2 L1835.3,652.8 L1841.3,652.8 L1841.3,649.4 L1844.3,649.4 L1844.3,646.0 L1849.3,646.0 L1849.3,642.6 L1853.2,642.6 L1853.2,639.2 L1858.2,639.2 L1858.2,635.8 L1862.2,635.8 L1862.2,632.4 L1865.2,632.4 L1865.2,629.0 L1870.1,629.0 L1870.1,625.6 L1873.1,625.6 L1873.1,622.2 L1877.1,622.2 L1877.1,618.8 L1881.1,618.8 L1881.1,615.4 L1885.1,615.4 L1885.1,612.0 L1891.0,612.0 L1891.0,608.6 L1894.0,608.6 L1894.0,605.2 L1898.0,605.2 L1898.0,601.8 L1902.0,601.8 L1902.0,598.4 L1905.9,598.4 L1905.9,595.0 L1909.9,595.0 L1909.9,591.6 L1914.9,591.6 L1914.9,588.2 L1916.9,588.2 L1916.9,584.8 L1920.9,584.8 L1920.9,581.4 L1925.8,581.4 L1925.8,578.0 L1930.8,578.0 L1930.8,574.6 L1931.8,574.6 L1931.8,578.0 L1933.8,578.0 L1933.8,574.6 L1936.8,574.6 L1936.8,571.2 L1939.8,571.2 L1939.8,567.8 L1942.7,567.8 L1942.7,564.4 L1947.7,564.4 L1947.7,561.0 L1953.7,561.0 L1953.7,557.6 L1956.7,557.6 L1956.7,554.2 L1958.6,554.2 L1958.6,550.8 L1962.6,550.8 L1962.6,547.4 L1968.6,547.4 L1968.6,544.0 L1971.6,544.0 L1971.6,540.6 L1975.6,540.6 L1975.6,537.2 L1980.5,537.2 L1980.5,533.8 L1982.5,533.8 L1982.5,530.4 L1986.5,530.4 L1986.5,527.0 L1987.5,527.0 L1987.5,530.4 L1989.5,530.4 L1989.5,527.0 L1993.5,527.0 L1993.5,523.6 L1997.4,523.6 L1997.4,520.2 L2000.4,520.2 L2000.4,516.8 L2004.4,516.8 L2004.4,513.4 L2007.4,513.4 L2007.4,510.0 L2009.4,510.0 L2009.4,506.6 L2016.3,506.6 L2016.3,503.2 L2019.3,503.2 L2019.3,499.8 L2023.3,499.8 L2023.3,496.4 L2028.3,496.4 L2028.3,493.0 L2032.2,493.0 L2032.2,489.6 L2035.2,489.6 L2035.2,486.2 L2037.2,486.2 L2037.2,482.8 L2041.2,482.8 L2041.2,479.4 L2042.2,479.4 L2042.2,482.8 L2043.2,482.8 L2043.2,479.4 L2047.2,479.4 L2047.2,476.0 L2050.1,476.0 L2050.1,472.6 L2054.1,472.6 L2054.1,469.2 L2058.1,469.2 L2058.1,465.8 L2062.1,465.8 L2062.1,462.4 L2066.1,462.4 L2066.1,459.0 L2068.0,459.0 L2068.0,455.6 L2076.0,455.6 L2076.0,452.2 L2079.0,452.2 L2079.0,448.8 L2083.0,448.8 L2083.0,445.4 L2087.9,445.4 L2087.9,442.0 L2091.9,442.0 L2091.9,438.6 L2093.9,438.6 L2093.9,435.2 L2096.9,435.2 L2096.9,431.8 L2099.9,431.8 L2099.9,428.4 L2104.8,428.4 L2104.8,425.0 L2107.8,425.0 L2107.8,421.6 L2112.8,421.6 L2112.8,418.2 L2116.8,418.2 L2116.8,414.8 L2120.8,414.8 L2120.8,411.4 L2122.7,411.4 L2122.7,408.0 L2125.7,408.0 L2125.7,404.6 L2126.7,404.6 L2126.7,408.0 L2128.7,408.0 L2128.7,404.6 L2131.7,404.6 L2131.7,401.2 L2134.7,401.2 L2134.7,397.8 L2139.7,397.8 L2139.7,394.4 L2143.6,394.4 L2143.6,391.0 L2146.6,391.0 L2146.6,387.6 L2150.6,387.6 L2150.6,384.2 L2154.6,384.2 L2154.6,380.8 L2157.6,380.8 L2157.6,377.4 L2161.5,377.4 L2161.5,374.0 L2165.5,374.0 L2165.5,370.6 L2167.5,370.6 L2167.5,367.2 L2171.5,367.2 L2171.5,363.8 L2172.5,363.8 L2172.5,367.2 L2173.5,367.2 L2173.5,363.8 L2176.5,363.8 L2176.5,360.4 L2177.4,360.4 L2177.4,363.8 L2178.4,363.8 L2178.4,360.4 L2182.4,360.4 L2182.4,357.0 L2186.4,357.0 L2186.4,353.6 L2189.4,353.6 L2189.4,350.2 L2192.4,350.2 L2192.4,346.8 L2195.3,346.8 L2195.3,343.4 L2198.3,343.4 L2198.3,340.0 L2201.3,340.0 L2201.3,336.6 L2202.3,336.6 L2202.3,340.0 L2203.3,340.0 L2203.3,336.6 L2207.3,336.6 L2207.3,333.2 L2209.3,333.2 L2209.3,329.8 L2213.2,329.8 L2213.2,326.4 L2216.2,326.4 L2216.2,323.0 L2220.2,323.0 L2220.2,319.6 L2224.2,319.6 L2224.2,316.2 L2227.2,316.2 L2227.2,312.8 L2230.2,312.8 L2230.2,309.4 L2234.1,309.4 L2234.1,306.0 L2237.1,306.0 L2237.1,302.6 L2240.1,302.6 L2240.1,299.2 L2240.1,299.2 L2240.1,302.4" stroke="#0000ff" stroke-width="10.6"/>
<path d="M2240.4,292.8 L2234.1,295.7 L2227.8,298.5 L2221.4,301.4 L2215.1,304.3 L2208.8,307.3 L2202.5,310.2 L2196.2,313.2 L2189.8,316.2 L2183.5,319.2 L2177.2,322.2 L2170.9,325.3 L2164.6,328.4 L2158.3,331.4 L2151.9,334.5 L2145.6,337.6 L2139.3,340.8 L2133.0,343.9 L2126.7,347.1 L2120.3,350.3 L2114.0,353.4 L2107.7,356.6 L2101.4,359.9 L2095.1,363.1 L2088.7,366.3 L2082.4,369.6 L2076.1,372.9 L2069.8,376.1 L2063.5,379.4 L2057.1,382.7 L2050.8,386.0 L2044.5,389.4 L2038.2,392.7 L2031.9,396.1 L2025.6,399.4 L2019.2,402.8 L2012.9,406.2 L2006.6,409.6 L2000.3,413.0 L1994.0,416.4 L1987.6,419.8 L1981.3,423.3 L1975.0,426.7 L1968.7,430.2 L1962.4,433.7 L1956.0,437.2 L1949.7,440.7 L1943.4,444.2 L1937.1,447.7 L1930.8,451.2 L1924.4,454.8 L1918.1,458.3 L1911.8,461.9 L1905.5,465.4 L1899.2,469.0 L1892.9,472.6 L1886.5,476.2 L1880.2,479.8 L1873.9,483.5 L1867.6,487.1 L1861.3,490.7 L1854.9,494.4 L1848.6,498.0 L1842.3,501.7 L1836.0,505.4 L1829.7,509.1 L1823.3,512.8 L1817.0,516.5 L1810.7,520.2 L1804.4,524.0 L1798.1,527.7 L1791.7,531.4 L1785.4,535.2 L1779.1,539.0 L1772.8,542.8 L1766.5,546.5 L1760.2,550.3 L1753.8,554.2 L1747.5,558.0 L1741.2,561.8 L1734.9,565.7 L1728.6,569.5 L1722.2,573.4 L1715.9,577.2 L1709.6,581.1 L1703.3,585.0 L1697.0,588.9 L1690.6,592.9 L1684.3,596.8 L1678.0,600.7 L1671.7,604.7 L1665.4,608.6 L1659.0,612.6 L1652.7,616.6 L1646.4,620.6 L1640.1,624.6 L1633.8,628.6 L1627.5,632.7 L1621.1,636.7 L1614.8,640.8 L1608.5,644.9 L1602.2,648.9 L1595.9,653.0 L1589.5,657.2 L1583.2,661.3 L1576.9,665.4 L1570.6,669.6 L1564.3,673.7 L1557.9,677.9 L1551.6,682.1 L1545.3,686.3 L1539.0,690.5 L1532.7,694.7 L1526.3,699.0 L1520.0,703.2 L1513.7,707.5 L1507.4,711.8 L1501.1,716.1 L1494.8,720.4 L1488.4,724.7 L1482.1,729.0 L1475.8,733.3 L1469.5,737.7 L1463.2,742.1 L1456.8,746.4 L1450.5,750.8 L1444.2,755.2 L1437.9,759.7 L1431.6,764.1 L1425.2,768.5 L1418.9,773.0 L1412.6,777.4 L1406.3,781.9 L1400.0,786.4 L1393.6,790.9 L1387.3,795.4 L1381.0,800.0 L1374.7,804.5 L1368.4,809.0 L1362.1,813.6 L1355.7,818.2 L1349.4,822.8 L1343.1,827.4 L1336.8,832.0 L1330.5,836.6 L1324.1,841.2 L1317.8,845.9 L1311.5,850.5 L1305.2,855.2 L1298.9,859.9 L1292.5,864.6 L1286.2,869.3 L1279.9,874.0 L1273.6,878.7 L1267.3,883.4 L1260.9,888.2 L1254.6,893.0 L1248.3,897.7 L1242.0,902.5 L1235.7,907.3 L1229.3,912.1 L1223.0,916.9 L1216.7,921.7 L1210.4,926.6 L1204.1,931.4 L1197.8,936.3 L1191.4,941.2 L1185.1,946.1 L1178.8,950.9 L1172.5,955.8 L1166.2,960.8 L1159.8,965.7 L1153.5,970.6 L1147.2,975.6 L1140.9,980.5 L1134.6,985.5 L1128.2,990.5 L1121.9,995.5 L1115.6,1000.5 L1109.3,1005.5 L1103.0,1010.5 L1096.6,1015.6 L1090.3,1020.6 L1084.0,1025.7 L1077.7,1030.7 L1071.4,1035.8 L1065.1,1040.9 L1058.7,1046.0 L1052.4,1051.1 L1046.1,1056.2 L1039.8,1061.4 L1033.5,1066.5 L1027.1,1071.7 L1020.8,1076.8 L1014.5,1082.0 L1008.2,1087.2 L1001.9,1092.4 L995.5,1097.6 L989.2,1102.8 L982.9,1108.0 L976.6,1113.3 L970.3,1118.5 L963.9,1123.8 L957.6,1129.1 L951.3,1134.3 L945.0,1139.6 L938.7,1144.9 L932.4,1150.3 L926.0,1155.6 L919.7,1160.9 L913.4,1166.3 L907.1,1171.6 L900.8,1177.0 L894.4,1182.4 L888.1,1187.8 L881.8,1193.2 L875.5,1198.6 L869.2,1204.0 L862.8,1209.5 L856.5,1214.9 L850.2,1220.4 L843.9,1225.9 L837.6,1231.4 L831.2,1236.9 L824.9,1242.4 L818.6,1247.9 L812.3,1253.4 L806.0,1259.0 L799.7,1264.5 L793.3,1270.1 L787.0,1275.7 L780.7,1281.3 L774.4,1286.9 L768.1,1292.5 L761.7,1298.1 L755.4,1303.8 L749.1,1309.4 L742.8,1315.1 L736.5,1320.7 L730.1,1326.4 L723.8,1332.1 L717.5,1337.8 L711.2,1343.5 L704.9,1349.2 L698.5,1355.0 L692.2,1360.7 L685.9,1366.4 L679.6,1372.2 L673.3,1377.9 L667.0,1383.7 L660.6,1389.4 L654.3,1395.2 L648.0,1401.0 L641.7,1406.7 L635.4,1412.5 L629.0,1418.3 L622.7,1424.0 L616.4,1429.8 L610.1,1435.6 L603.8,1441.4 L597.4,1447.2 L591.1,1453.0 L584.8,1458.8 L578.5,1464.6 L572.2,1470.5 L565.8,1476.3 L559.5,1482.2 L553.2,1488.1 L546.9,1493.9 L540.6,1499.9 L534.3,1505.8 L527.9,1511.7 L521.6,1517.7 L515.3,1523.7 L509.0,1529.7 L502.7,1535.7 L496.3,1541.7 L490.0,1547.8 L483.7,1553.9 L477.4,1560.0 L471.1,1566.1 L464.7,1572.3 L458.4,1578.4 L452.1,1584.6 L445.8,1590.7 L439.5,1596.9 L433.1,1603.1 L426.8,1609.3 L420.5,1615.4 L414.2,1621.6 L407.9,1627.8 L401.6,1634.0 L395.2,1640.1 L388.9,1646.3 L382.6,1652.5 L376.3,1658.6 L370.0,1664.7 L363.6,1670.8 L357.3,1676.9 L351.0,1683.0" stroke="#ff0000" stroke-width="11.5"/>
<path d="M351.0,1683.0 L351.0,1692.5 L357.3,1689.5 L363.6,1686.5 L370.0,1683.4 L376.3,1680.4 L382.6,1677.4 L388.9,1674.4 L395.2,1671.4 L401.5,1668.4 L407.9,1665.4 L414.2,1662.4 L420.5,1659.4 L426.8,1656.4 L433.1,1653.4 L439.5,1650.3 L445.8,1647.3 L452.1,1644.2 L458.4,1641.2 L464.7,1638.1 L471.0,1635.0 L477.4,1631.9 L483.7,1628.8 L490.0,1625.7 L496.3,1622.5 L502.6,1619.4 L509.0,1616.2 L515.3,1613.0 L521.6,1609.7 L527.9,1606.5 L534.2,1603.2 L540.5,1599.9 L546.9,1596.6 L553.2,1593.3 L559.5,1590.0 L565.8,1586.6 L572.1,1583.2 L578.5,1579.9 L584.8,1576.5 L591.1,1573.1 L597.4,1569.6 L603.7,1566.2 L610.0,1562.8 L616.4,1559.3 L622.7,1555.9 L629.0,1552.4 L635.3,1549.0 L641.6,1545.5 L647.9,1542.0 L654.3,1538.6 L660.6,1535.1 L666.9,1531.6 L673.2,1528.1 L679.5,1524.6 L685.9,1521.1 L692.2,1517.5 L698.5,1514.0 L704.8,1510.5 L711.1,1506.9 L717.4,1503.4 L723.8,1499.8 L730.1,1496.3 L736.4,1492.7 L742.7,1489.1 L749.0,1485.5 L755.4,1481.9 L761.7,1478.3 L768.0,1474.7 L774.3,1471.1 L780.6,1467.4 L786.9,1463.8 L793.3,1460.1 L799.6,1456.4 L805.9,1452.8 L812.2,1449.1 L818.5,1445.4 L824.9,1441.6 L831.2,1437.9 L837.5,1434.2 L843.8,1430.4 L850.1,1426.7 L856.4,1422.9 L862.8,1419.1 L869.1,1415.3 L875.4,1411.5 L881.7,1407.7 L888.0,1403.8 L894.4,1400.0 L900.7,1396.1 L907.0,1392.2 L913.3,1388.3 L919.6,1384.4 L925.9,1380.5 L932.3,1376.6 L938.6,1372.6 L944.9,1368.7 L951.2,1364.7 L957.5,1360.7 L963.9,1356.7 L970.2,1352.7 L976.5,1348.7 L982.8,1344.6 L989.1,1340.6 L995.4,1336.5 L1001.8,1332.4 L1008.1,1328.3 L1014.4,1324.1 L1020.7,1320.0 L1027.0,1315.8 L1033.4,1311.7 L1039.7,1307.5 L1046.0,1303.3 L1052.3,1299.0 L1058.6,1294.8 L1064.9,1290.6 L1071.3,1286.3 L1077.6,1282.0 L1083.9,1277.7 L1090.2,1273.4 L1096.5,1269.1 L1102.8,1264.7 L1109.2,1260.4 L1115.5,1256.0 L1121.8,1251.6 L1128.1,1247.2 L1134.4,1242.8 L1140.8,1238.4 L1147.1,1233.9 L1153.4,1229.5 L1159.7,1225.0 L1166.0,1220.6 L1172.3,1216.1 L1178.7,1211.6 L1185.0,1207.1 L1191.3,1202.6 L1197.6,1198.1 L1203.9,1193.5 L1210.3,1189.0 L1216.6,1184.4 L1222.9,1179.9 L1229.2,1175.3 L1235.5,1170.7 L1241.8,1166.1 L1248.2,1161.5 L1254.5,1156.9 L1260.8,1152.3 L1267.1,1147.7 L1273.4,1143.1 L1279.8,1138.4 L1286.1,1133.8 L1292.4,1129.2 L1298.7,1124.5 L1305.0,1119.8 L1311.3,1115.2 L1317.7,1110.5 L1324.0,1105.8 L1330.3,1101.1 L1336.6,1096.4 L1342.9,1091.7 L1349.3,1087.0 L1355.6,1082.3 L1361.9,1077.6 L1368.2,1072.9 L1374.5,1068.1 L1380.8,1063.4 L1387.2,1058.6 L1393.5,1053.8 L1399.8,1049.0 L1406.1,1044.3 L1412.4,1039.5 L1418.8,1034.6 L1425.1,1029.8 L1431.4,1025.0 L1437.7,1020.1 L1444.0,1015.3 L1450.3,1010.4 L1456.7,1005.5 L1463.0,1000.7 L1469.3,995.8 L1475.6,990.8 L1481.9,985.9 L1488.3,981.0 L1494.6,976.0 L1500.9,971.1 L1507.2,966.1 L1513.5,961.1 L1519.8,956.1 L1526.2,951.0 L1532.5,946.0 L1538.8,941.0 L1545.1,935.9 L1551.4,930.8 L1557.7,925.7 L1564.1,920.6 L1570.4,915.5 L1576.7,910.3 L1583.0,905.2 L1589.3,900.0 L1595.7,894.8 L1602.0,889.6 L1608.3,884.4 L1614.6,879.2 L1620.9,873.9 L1627.2,868.7 L1633.6,863.4 L1639.9,858.1 L1646.2,852.8 L1652.5,847.5 L1658.8,842.2 L1665.2,836.9 L1671.5,831.6 L1677.8,826.2 L1684.1,820.9 L1690.4,815.5 L1696.7,810.1 L1703.1,804.7 L1709.4,799.4 L1715.7,794.0 L1722.0,788.5 L1728.3,783.1 L1734.7,777.7 L1741.0,772.3 L1747.3,766.8 L1753.6,761.4 L1759.9,755.9 L1766.2,750.5 L1772.6,745.0 L1778.9,739.6 L1785.2,734.1 L1791.5,728.6 L1797.8,723.1 L1804.2,717.6 L1810.5,712.1 L1816.8,706.6 L1823.1,701.1 L1829.4,695.6 L1835.7,690.1 L1842.1,684.6 L1848.4,679.1 L1854.7,673.6 L1861.0,668.1 L1867.3,662.5 L1873.7,657.0 L1880.0,651.4 L1886.3,645.9 L1892.6,640.3 L1898.9,634.8 L1905.2,629.2 L1911.6,623.6 L1917.9,618.0 L1924.2,612.4 L1930.5,606.7 L1936.8,601.1 L1943.2,595.4 L1949.5,589.8 L1955.8,584.1 L1962.1,578.4 L1968.4,572.7 L1974.7,566.9 L1981.1,561.2 L1987.4,555.4 L1993.7,549.6 L2000.0,543.8 L2006.3,538.0 L2012.6,532.2 L2019.0,526.3 L2025.3,520.4 L2031.6,514.5 L2037.9,508.6 L2044.2,502.6 L2050.6,496.7 L2056.9,490.7 L2063.2,484.7 L2069.5,478.6 L2075.8,472.5 L2082.1,466.4 L2088.5,460.3 L2094.8,454.2 L2101.1,448.0 L2107.4,441.8 L2113.7,435.6 L2120.1,429.3 L2126.4,423.1 L2132.7,416.8 L2139.0,410.5 L2145.3,404.3 L2151.6,398.0 L2158.0,391.7 L2164.3,385.4 L2170.6,379.1 L2176.9,372.8 L2183.2,366.5 L2189.6,360.2 L2195.9,353.9 L2202.2,347.7 L2208.5,341.4 L2214.8,335.2 L2221.1,329.0 L2227.5,322.8 L2233.8,316.6 L2240.1,310.5 L2240.1,309.0 L2233.8,311.9 L2227.5,314.8 L2221.1,317.7 L2214.8,320.6 L2208.5,323.6 L2202.2,326.6 L2195.9,329.7 L2189.6,332.8 L2183.2,335.9 L2176.9,339.0 L2170.6,342.1 L2164.3,345.3 L2158.0,348.5 L2151.6,351.7 L2145.3,354.9 L2139.0,358.1 L2132.7,361.4 L2126.4,364.6 L2120.1,367.9 L2113.7,371.2 L2107.4,374.5 L2101.1,377.8 L2094.8,381.1 L2088.5,384.4 L2082.1,387.7 L2075.8,391.0 L2069.5,394.3 L2063.2,397.6 L2056.9,400.9 L2050.6,404.3 L2044.2,407.6 L2037.9,410.9 L2031.6,414.3 L2025.3,417.6 L2019.0,421.0 L2012.6,424.3 L2006.3,427.7 L2000.0,431.1 L1993.7,434.4 L1987.4,437.8 L1981.1,441.2 L1974.7,444.6 L1968.4,448.0 L1962.1,451.4 L1955.8,454.9 L1949.5,458.3 L1943.2,461.7 L1936.8,465.2 L1930.5,468.6 L1924.2,472.1 L1917.9,475.6 L1911.6,479.0 L1905.2,482.5 L1898.9,486.0 L1892.6,489.5 L1886.3,493.1 L1880.0,496.6 L1873.7,500.1 L1867.3,503.7 L1861.0,507.3 L1854.7,510.8 L1848.4,514.4 L1842.1,518.0 L1835.7,521.7 L1829.4,525.3 L1823.1,528.9 L1816.8,532.6 L1810.5,536.3 L1804.2,539.9 L1797.8,543.6 L1791.5,547.3 L1785.2,551.1 L1778.9,554.8 L1772.6,558.5 L1766.2,562.3 L1759.9,566.1 L1753.6,569.9 L1747.3,573.7 L1741.0,577.5 L1734.7,581.3 L1728.3,585.1 L1722.0,589.0 L1715.7,592.8 L1709.4,596.7 L1703.1,600.6 L1696.7,604.5 L1690.4,608.4 L1684.1,612.3 L1677.8,616.2 L1671.5,620.2 L1665.2,624.1 L1658.8,628.1 L1652.5,632.1 L1646.2,636.0 L1639.9,640.0 L1633.6,644.1 L1627.2,648.1 L1620.9,652.1 L1614.6,656.1 L1608.3,660.2 L1602.0,664.3 L1595.7,668.3 L1589.3,672.4 L1583.0,676.5 L1576.7,680.6 L1570.4,684.7 L1564.1,688.9 L1557.7,693.0 L1551.4,697.2 L1545.1,701.3 L1538.8,705.5 L1532.5,709.7 L1526.2,713.9 L1519.8,718.1 L1513.5,722.3 L1507.2,726.5 L1500.9,730.7 L1494.6,735.0 L1488.3,739.2 L1481.9,743.5 L1475.6,747.8 L1469.3,752.0 L1463.0,756.3 L1456.7,760.6 L1450.3,765.0 L1444.0,769.3 L1437.7,773.6 L1431.4,778.0 L1425.1,782.3 L1418.8,786.7 L1412.4,791.1 L1406.1,795.5 L1399.8,799.9 L1393.5,804.3 L1387.2,808.7 L1380.8,813.2 L1374.5,817.6 L1368.2,822.1 L1361.9,826.6 L1355.6,831.0 L1349.3,835.5 L1342.9,840.0 L1336.6,844.6 L1330.3,849.1 L1324.0,853.6 L1317.7,858.2 L1311.3,862.8 L1305.0,867.3 L1298.7,871.9 L1292.4,876.5 L1286.1,881.1 L1279.8,885.8 L1273.4,890.4 L1267.1,895.1 L1260.8,899.7 L1254.5,904.4 L1248.2,909.1 L1241.8,913.8 L1235.5,918.5 L1229.2,923.2 L1222.9,928.0 L1216.6,932.7 L1210.3,937.5 L1203.9,942.2 L1197.6,947.0 L1191.3,951.8 L1185.0,956.7 L1178.7,961.5 L1172.3,966.3 L1166.0,971.2 L1159.7,976.1 L1153.4,980.9 L1147.1,985.8 L1140.8,990.8 L1134.4,995.7 L1128.1,1000.6 L1121.8,1005.6 L1115.5,1010.6 L1109.2,1015.6 L1102.8,1020.6 L1096.5,1025.6 L1090.2,1030.6 L1083.9,1035.7 L1077.6,1040.7 L1071.3,1045.8 L1064.9,1050.9 L1058.6,1056.0 L1052.3,1061.1 L1046.0,1066.3 L1039.7,1071.4 L1033.4,1076.6 L1027.0,1081.8 L1020.7,1087.0 L1014.4,1092.2 L1008.1,1097.4 L1001.8,1102.7 L995.4,1108.0 L989.1,1113.2 L982.8,1118.5 L976.5,1123.8 L970.2,1129.2 L963.9,1134.5 L957.5,1139.8 L951.2,1145.2 L944.9,1150.5 L938.6,1155.9 L932.3,1161.3 L925.9,1166.7 L919.6,1172.1 L913.3,1177.5 L907.0,1182.9 L900.7,1188.4 L894.4,1193.8 L888.0,1199.2 L881.7,1204.7 L875.4,1210.2 L869.1,1215.6 L862.8,1221.1 L856.4,1226.6 L850.1,1232.1 L843.8,1237.6 L837.5,1243.0 L831.2,1248.5 L824.9,1254.0 L818.5,1259.5 L812.2,1265.1 L805.9,1270.6 L799.6,1276.1 L793.3,1281.6 L786.9,1287.1 L780.6,1292.6 L774.3,1298.1 L768.0,1303.6 L761.7,1309.2 L755.4,1314.7 L749.0,1320.2 L742.7,1325.7 L736.4,1331.2 L730.1,1336.8 L723.8,1342.3 L717.4,1347.9 L711.1,1353.4 L704.8,1359.0 L698.5,1364.6 L692.2,1370.2 L685.9,1375.8 L679.5,1381.4 L673.2,1387.0 L666.9,1392.7 L660.6,1398.3 L654.3,1404.0 L647.9,1409.7 L641.6,1415.5 L635.3,1421.2 L629.0,1427.0 L622.7,1432.8 L616.4,1438.6 L610.0,1444.5 L603.7,1450.3 L597.4,1456.2 L591.1,1462.1 L584.8,1468.0 L578.5,1474.0 L572.1,1479.9 L565.8,1485.9 L559.5,1491.8 L553.2,1497.8 L546.9,1503.8 L540.5,1509.8 L534.2,1515.8 L527.9,1521.8 L521.6,1527.8 L515.3,1533.8 L509.0,1539.8 L502.6,1545.8 L496.3,1551.8 L490.0,1557.8 L483.7,1563.8 L477.4,1569.9 L471.0,1575.9 L464.7,1581.9 L458.4,1587.9 L452.1,1593.9 L445.8,1599.9 L439.5,1606.0 L433.1,1612.0 L426.8,1618.0 L420.5,1624.0 L414.2,1630.0 L407.9,1636.1 L401.5,1642.1 L395.2,1648.1 L388.9,1654.2 L382.6,1660.2 L376.3,1666.3 L370.0,1672.3 L363.6,1678.4 L357.3,1684.4 L351.0,1690.5 L351.0,1684.5 L357.3,1681.5 L363.6,1678.4 L370.0,1675.4 L376.3,1672.4 L382.6,1669.3 L388.9,1666.3 L395.2,1663.3 L401.5,1660.2 L407.9,1657.2 L414.2,1654.2 L420.5,1651.1 L426.8,1648.0 L433.1,1645.0 L439.5,1641.9 L445.8,1638.9 L452.1,1635.8 L458.4,1632.7 L464.7,1629.6 L471.0,1626.5 L477.4,1623.4 L483.7,1620.3 L490.0,1617.1 L496.3,1614.0 L502.6,1610.9 L509.0,1607.7 L515.3,1604.5 L521.6,1601.3 L527.9,1598.1 L534.2,1594.9 L540.5,1591.7 L546.9,1588.5 L553.2,1585.2 L559.5,1582.0 L565.8,1578.7 L572.1,1575.4 L578.5,1572.1 L584.8,1568.8 L591.1,1565.5 L597.4,1562.2 L603.7,1558.8 L610.0,1555.5 L616.4,1552.1 L622.7,1548.8 L629.0,1545.4 L635.3,1542.0 L641.6,1538.6 L647.9,1535.1 L654.3,1531.7 L660.6,1528.3 L666.9,1524.8 L673.2,1521.3 L679.5,1517.9 L685.9,1514.4 L692.2,1510.9 L698.5,1507.3 L704.8,1503.8 L711.1,1500.3 L717.4,1496.7 L723.8,1493.2 L730.1,1489.6 L736.4,1486.0 L742.7,1482.4 L749.0,1478.8 L755.4,1475.2 L761.7,1471.5 L768.0,1467.9 L774.3,1464.2 L780.6,1460.6 L786.9,1456.9 L793.3,1453.2 L799.6,1449.5 L805.9,1445.8 L812.2,1442.1 L818.5,1438.3 L824.9,1434.6 L831.2,1430.8 L837.5,1427.0 L843.8,1423.2 L850.1,1419.4 L856.4,1415.6 L862.8,1411.8 L869.1,1408.0 L875.4,1404.1 L881.7,1400.3 L888.0,1396.4 L894.4,1392.5 L900.7,1388.6 L907.0,1384.7 L913.3,1380.8 L919.6,1376.9 L925.9,1372.9 L932.3,1369.0 L938.6,1365.0 L944.9,1361.0 L951.2,1357.1 L957.5,1353.1 L963.9,1349.0 L970.2,1345.0 L976.5,1341.0 L982.8,1336.9 L989.1,1332.9 L995.4,1328.8 L1001.8,1324.7 L1008.1,1320.6 L1014.4,1316.5 L1020.7,1312.4 L1027.0,1308.2 L1033.4,1304.1 L1039.7,1299.9 L1046.0,1295.7 L1052.3,1291.6 L1058.6,1287.4 L1064.9,1283.2 L1071.3,1278.9 L1077.6,1274.7 L1083.9,1270.5 L1090.2,1266.2 L1096.5,1261.9 L1102.8,1257.7 L1109.2,1253.4 L1115.5,1249.1 L1121.8,1244.7 L1128.1,1240.4 L1134.4,1236.1 L1140.8,1231.7 L1147.1,1227.4 L1153.4,1223.0 L1159.7,1218.7 L1166.0,1214.3 L1172.3,1209.9 L1178.7,1205.5 L1185.0,1201.0 L1191.3,1196.6 L1197.6,1192.2 L1203.9,1187.7 L1210.3,1183.3 L1216.6,1178.8 L1222.9,1174.3 L1229.2,1169.9 L1235.5,1165.4 L1241.8,1160.9 L1248.2,1156.3 L1254.5,1151.8 L1260.8,1147.3 L1267.1,1142.8 L1273.4,1138.2 L1279.8,1133.7 L1286.1,1129.1 L1292.4,1124.5 L1298.7,1119.9 L1305.0,1115.3 L1311.3,1110.7 L1317.7,1106.1 L1324.0,1101.5 L1330.3,1096.9 L1336.6,1092.3 L1342.9,1087.6 L1349.3,1083.0 L1355.6,1078.3 L1361.9,1073.6 L1368.2,1068.9 L1374.5,1064.3 L1380.8,1059.5 L1387.2,1054.8 L1393.5,1050.1 L1399.8,1045.4 L1406.1,1040.6 L1412.4,1035.8 L1418.8,1031.1 L1425.1,1026.3 L1431.4,1021.5 L1437.7,1016.7 L1444.0,1011.8 L1450.3,1007.0 L1456.7,1002.2 L1463.0,997.3 L1469.3,992.4 L1475.6,987.5 L1481.9,982.6 L1488.3,977.7 L1494.6,972.7 L1500.9,967.8 L1507.2,962.8 L1513.5,957.8 L1519.8,952.8 L1526.2,947.8 L1532.5,942.8 L1538.8,937.8 L1545.1,932.7 L1551.4,927.6 L1557.7,922.5 L1564.1,917.4 L1570.4,912.3 L1576.7,907.1 L1583.0,902.0 L1589.3,896.8 L1595.7,891.6 L1602.0,886.4 L1608.3,881.2 L1614.6,875.9 L1620.9,870.7 L1627.2,865.4 L1633.6,860.1 L1639.9,854.8 L1646.2,849.5 L1652.5,844.2 L1658.8,838.9 L1665.2,833.5 L1671.5,828.2 L1677.8,822.8 L1684.1,817.4 L1690.4,812.0 L1696.7,806.6 L1703.1,801.2 L1709.4,795.8 L1715.7,790.3 L1722.0,784.9 L1728.3,779.4 L1734.7,774.0 L1741.0,768.5 L1747.3,763.0 L1753.6,757.5 L1759.9,752.0 L1766.2,746.5 L1772.6,741.0 L1778.9,735.5 L1785.2,730.0 L1791.5,724.5 L1797.8,718.9 L1804.2,713.4 L1810.5,707.9 L1816.8,702.3 L1823.1,696.7 L1829.4,691.2 L1835.7,685.6 L1842.1,680.1 L1848.4,674.5 L1854.7,668.9 L1861.0,663.3 L1867.3,657.7 L1873.7,652.1 L1880.0,646.5 L1886.3,640.9 L1892.6,635.3 L1898.9,629.7 L1905.2,624.0 L1911.6,618.4 L1917.9,612.7 L1924.2,607.1 L1930.5,601.4 L1936.8,595.7 L1943.2,590.0 L1949.5,584.3 L1955.8,578.6 L1962.1,572.9 L1968.4,567.2 L1974.7,561.4 L1981.1,555.7 L1987.4,549.9 L1993.7,544.2 L2000.0,538.4 L2006.3,532.6 L2012.6,526.8 L2019.0,520.9 L2025.3,515.1 L2031.6,509.3 L2037.9,503.4 L2044.2,497.5 L2050.6,491.6 L2056.9,485.7 L2063.2,479.8 L2069.5,473.9 L2075.8,467.9 L2082.1,461.9 L2088.5,455.9 L2094.8,449.9 L2101.1,443.9 L2107.4,437.9 L2113.7,431.9 L2120.1,425.8 L2126.4,419.7 L2132.7,413.7 L2139.0,407.6 L2145.3,401.5 L2151.6,395.4 L2158.0,389.3 L2164.3,383.1 L2170.6,377.0 L2176.9,370.9 L2183.2,364.7 L2189.6,358.6 L2195.9,352.5 L2202.2,346.3 L2208.5,340.2 L2214.8,334.0 L2221.1,327.9 L2227.5,321.8 L2233.8,315.6 L2240.1,309.5" stroke="#ff0000" stroke-width="12.0"/>
<path d="M1823.3,528.7 L1828.1,526.0 L1832.8,523.2 L1837.6,520.5 L1842.4,517.7 L1847.1,515.0 L1851.9,512.3 L1856.7,509.6 L1861.4,506.8 L1866.2,504.1 L1871.0,501.4 L1875.8,498.7 L1880.5,496.0 L1885.3,493.3 L1890.1,490.6 L1894.8,487.9 L1899.6,485.2 L1904.4,482.5 L1909.1,479.8 L1913.9,477.2 L1918.7,474.5 L1923.4,471.8 L1928.2,469.2 L1933.0,466.5 L1937.7,463.9 L1942.5,461.2 L1947.3,458.6 L1952.0,455.9 L1956.8,453.3 L1961.6,450.7 L1966.4,448.0 L1971.1,445.4 L1975.9,442.8 L1980.7,440.2 L1985.4,437.6 L1990.2,435.0 L1995.0,432.4 L1999.7,429.8 L2004.5,427.3 L2009.3,424.7 L2014.0,422.1 L2018.8,419.6 L2023.6,417.0 L2028.3,414.5 L2033.1,411.9 L2037.9,409.4 L2042.6,406.9 L2047.4,404.3 L2052.2,401.8 L2056.9,399.3 L2061.7,396.8 L2066.5,394.3 L2071.3,391.8 L2076.0,389.3 L2080.8,386.8 L2085.6,384.4 L2090.3,381.9 L2095.1,379.5 L2099.9,377.0 L2104.6,374.6 L2109.4,372.1 L2114.2,369.7 L2118.9,367.3 L2123.7,364.9 L2128.5,362.5 L2133.2,360.1 L2138.0,357.7 L2142.8,355.3 L2147.5,352.9 L2152.3,350.5 L2157.1,348.2 L2161.9,345.8 L2166.6,343.5 L2171.4,341.1 L2176.2,338.8 L2180.9,336.5 L2185.7,334.2 L2190.5,331.9 L2195.2,329.6 L2200.0,327.3" stroke="#ff0000" stroke-width="12.0" stroke-linecap="butt"/>
<polygon points="2239,303.2 2246.1,303.2 2246.1,314.4 2241,319.7 2236,319.7 2236,310" fill="#ff0000" stroke="none"/>
</g>
<g shape-rendering="crispEdges" stroke="none">
<rect x="236" y="99" width="2120" height="11" fill="#262626"/>
<rect x="236" y="1845" width="2120" height="10" fill="#262626"/>
<rect x="236" y="99" width="10" height="1756" fill="#262626"/>
<rect x="2346" y="99" width="10" height="1756" fill="#262626"/>
<rect x="326" y="131" width="531" height="200" fill="#262626"/>
<rect x="336" y="141" width="511" height="180" fill="#ffffff"/>
<rect x="349" y="182" width="182" height="11" fill="#0000ff"/>
<rect x="349" y="270" width="182" height="10" fill="#ff0000"/>
</g>
<g style="font-family:'Liberation Serif','Times New Roman',Times,serif;font-size:72.5px" fill="#000000">
<text transform="translate(543.60,211.70) scale(1.004,1.03)" text-anchor="start">Measured</text>
<text transform="translate(543.60,299.80) scale(1.004,1.03)" text-anchor="start">Modelled</text>
<text transform="translate(1296.00,73.20) scale(1.0,1.03)" text-anchor="middle" style="font-weight:bold">Hysteresis X-axis</text>
</g>
<g style="font-family:'Liberation Serif','Times New Roman',Times,serif;font-size:72.5px" fill="#262626">
<text transform="translate(241.00,1943.80) scale(1.005,1.03)" text-anchor="middle">-200</text>
<text transform="translate(504.75,1943.80) scale(1.005,1.03)" text-anchor="middle">-150</text>
<text transform="translate(768.50,1943.80) scale(1.005,1.03)" text-anchor="middle">-100</text>
<text transform="translate(1032.25,1943.80) scale(1.005,1.03)" text-anchor="middle">-50</text>
<text transform="translate(1296.00,1943.80) scale(1.005,1.03)" text-anchor="middle">0</text>
<text transform="translate(1559.75,1943.80) scale(1.005,1.03)" text-anchor="middle">50</text>
<text transform="translate(1823.50,1943.80) scale(1.005,1.03)" text-anchor="middle">100</text>
<text transform="translate(2087.25,1943.80) scale(1.005,1.03)" text-anchor="middle">150</text>
<text transform="translate(2351.00,1943.80) scale(1.005,1.03)" text-anchor="middle">200</text>
<text transform="translate(213.60,1875.50) scale(1.005,1.03)" text-anchor="end">-20</text>
<text transform="translate(213.60,1657.30) scale(1.005,1.03)" text-anchor="end">-15</text>
<text transform="translate(213.60,1439.10) scale(1.005,1.03)" text-anchor="end">-10</text>
<text transform="translate(213.60,1220.90) scale(1.005,1.03)" text-anchor="end">-5</text>
<text transform="translate(213.60,1002.70) scale(1.005,1.03)" text-anchor="end">0</text>
<text transform="translate(213.60,784.50) scale(1.005,1.03)" text-anchor="end">5</text>
<text transform="translate(213.60,566.30) scale(1.005,1.03)" text-anchor="end">10</text>
<text transform="translate(213.60,348.10) scale(1.005,1.03)" text-anchor="end">15</text>
<text transform="translate(213.60,129.90) scale(1.005,1.03)" text-anchor="end">20</text>
<text transform="translate(1293.60,2035.90) scale(1.0,1.03)" text-anchor="middle">Input voltage (V)</text>
<text transform="translate(78,1260.5) rotate(-90) scale(1,1.03)" style="font-size:72.3px">Displacement (<tspan dx="3.30" style="font-style:italic" textLength="43.69" lengthAdjust="spacingAndGlyphs">μ</tspan><tspan dx="0.31">m)</tspan></text>
</g>
</svg>
</body></html>
